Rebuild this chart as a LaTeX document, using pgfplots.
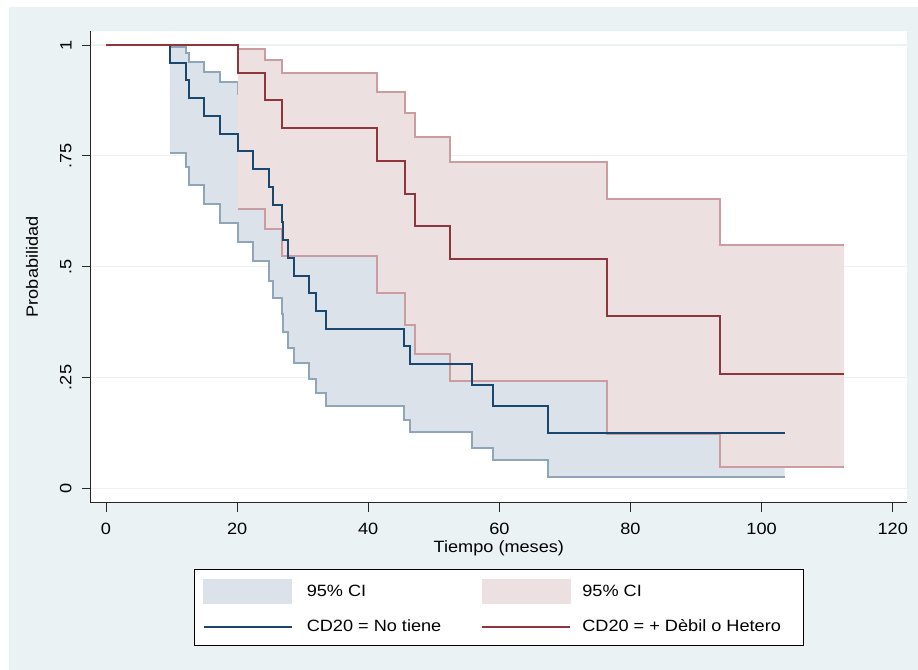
\documentclass[border=0pt]{standalone}
\usepackage{fontspec}
\setmainfont{Liberation Sans}[FakeStretch=1.11]
\usepackage{pgfplots}
\pgfplotsset{compat=1.18}
\usepackage{pgfplotstable}

\definecolor{bgc}{HTML}{EAF2F3}
\definecolor{gridc}{HTML}{EAF2F3}
\definecolor{bluel}{HTML}{1A476F}
\definecolor{redl}{HTML}{90353B}
\definecolor{bluefill}{HTML}{DCE2EA}
\definecolor{blueci}{HTML}{8FA5BA}
\definecolor{redfill}{HTML}{EDE0E1}
\definecolor{redci}{HTML}{CB9DA1}

% Blue group (CD20 = No tiene): survival estimate
\pgfplotstableread{
t s
0 1
9.76 0.96
12.2 0.92
12.66 0.88
15.0 0.84
17.4 0.80
20.1 0.76
22.5 0.72
24.9 0.68
25.5 0.64
26.8 0.60
27.0 0.56
27.7 0.52
28.7 0.48
30.9 0.44
32.0 0.40
33.5 0.36
45.5 0.32
46.3 0.28
55.8 0.2333
59.1 0.1867
67.4 0.1244
103.5 0.1244
}\blueS
% upper CI
\pgfplotstableread{
t u
9.76 0.995
12.2 0.981
12.66 0.961
15.0 0.938
17.4 0.916
20.1 0.89
22.5 0.866
24.9 0.84
25.5 0.81
26.8 0.785
27.0 0.757
27.7 0.727
28.7 0.697
30.9 0.665
32.0 0.632
33.5 0.598
45.5 0.56
46.3 0.52
55.8 0.48
59.1 0.43
67.4 0.35
103.5 0.35
}\blueU
% lower CI
\pgfplotstableread{
t l
9.76 0.757
12.2 0.725
12.66 0.684
15.0 0.641
17.4 0.599
20.1 0.556
22.5 0.513
24.9 0.468
25.5 0.429
26.8 0.393
27.0 0.353
27.7 0.316
28.7 0.282
30.9 0.247
32.0 0.216
33.5 0.185
45.5 0.154
46.3 0.126
55.8 0.092
59.1 0.063
67.4 0.026
103.5 0.026
}\blueL
% CI band outline: upper forward, then lower backward (value left of each step)
\pgfplotstableread{
t v
9.76 0.995
12.2 0.981
12.66 0.961
15.0 0.938
17.4 0.916
20.1 0.89
22.5 0.866
24.9 0.84
25.5 0.81
26.8 0.785
27.0 0.757
27.7 0.727
28.7 0.697
30.9 0.665
32.0 0.632
33.5 0.598
45.5 0.56
46.3 0.52
55.8 0.48
59.1 0.43
67.4 0.35
103.5 0.35
103.5 0.026
67.4 0.063
59.1 0.092
55.8 0.126
46.3 0.154
45.5 0.185
33.5 0.216
32.0 0.247
30.9 0.282
28.7 0.316
27.7 0.353
27.0 0.393
26.8 0.429
25.5 0.468
24.9 0.513
22.5 0.556
20.1 0.599
17.4 0.641
15.0 0.684
12.66 0.725
12.2 0.757
9.76 0.757
}\blueBand
% Red group (CD20 = + Debil o Hetero)
\pgfplotstableread{
t s
0 1
20.1 0.9375
24.25 0.875
26.9 0.8125
41.3 0.7386
45.6 0.6648
47.2 0.5909
52.4 0.5170
76.4 0.3878
93.7 0.2585
112.6 0.2585
}\redS
\pgfplotstableread{
t u
20.1 0.990
24.25 0.966
26.9 0.936
41.3 0.893
45.6 0.847
47.2 0.793
52.4 0.735
76.4 0.653
93.7 0.549
112.6 0.549
}\redU
\pgfplotstableread{
t l
20.1 0.631
24.25 0.585
26.9 0.5245
41.3 0.441
45.6 0.369
47.2 0.302
52.4 0.2415
76.4 0.123
93.7 0.047
112.6 0.047
}\redL
\pgfplotstableread{
t v
20.1 0.990
24.25 0.966
26.9 0.936
41.3 0.893
45.6 0.847
47.2 0.793
52.4 0.735
76.4 0.653
93.7 0.549
112.6 0.549
112.6 0.047
93.7 0.123
76.4 0.2415
52.4 0.302
47.2 0.369
45.6 0.441
41.3 0.5245
26.9 0.585
24.25 0.631
20.1 0.631
}\redBand

\begin{document}
\fontsize{16.4}{19}\selectfont
\begin{tikzpicture}
\fill[white] (0bp,0bp) rectangle (918bp,670bp);
\fill[bgc] (9bp,0bp) rectangle (918bp,663bp);
\begin{axis}[
  at={(90.7bp,167.3bp)}, anchor=south west,
  scale only axis, width=816.3bp, height=471.7bp,
  xmin=-2.33, xmax=122.18, ymin=-0.0325, ymax=1.0316,
  axis x line*=bottom, axis y line*=left,
  axis line style={-, line width=0.9bp, black!85},
  axis background/.style={fill=white},
  xtick={0,20,40,60,80,100,120},
  ytick={0,0.25,0.5,0.75,1},
  yticklabels={0,.25,.5,.75,1},
  tick align=outside, major tick length=9bp,
  tick style={line width=0.9bp, black!85},
  ymajorgrids, grid style={line width=1.2bp, gridc},
  /pgf/number format/assume math mode=true,
  yticklabel style={rotate=90, anchor=south, inner sep=0pt},
  xticklabel style={anchor=north, inner sep=0pt},
  xticklabel shift=11bp, yticklabel shift=10bp,
  xlabel={Tiempo (meses)}, ylabel={Probabilidad},
  xlabel style={at={(axis description cs:0.5,-0.1051)}, anchor=base, inner sep=0pt},
  ylabel style={at={(axis description cs:-0.0646,0.5)}, anchor=base, inner sep=0pt},
  legend columns=2,
  legend cell align=left,
  legend style={at={(axis description cs:0.5,-0.1412)}, anchor=north,
    draw=black, line width=0.9bp, fill=white,
    inner xsep=8.7bp, inner ysep=9.7bp, row sep=15bp,
    nodes={inner sep=0pt},
    /tikz/column 1/.style={column sep=14bp},
    /tikz/column 2/.style={column sep=40bp},
    /tikz/column 3/.style={column sep=11bp},
    font=\fontsize{16.4}{19}\selectfont},
]
% blue CI
\addplot[const plot, fill=bluefill, draw=none, forget plot] table[x=t,y=v] {\blueBand};
\addplot[const plot, blueci, line width=2bp, forget plot] table[x=t,y=u] {\blueU};
\addplot[const plot, blueci, line width=2bp, forget plot] table[x=t,y=l] {\blueL};
% red CI
\addplot[const plot, fill=redfill, draw=none, forget plot] table[x=t,y=v] {\redBand};
\addplot[const plot, redci, line width=2bp, forget plot] table[x=t,y=u] {\redU};
\addplot[const plot, redci, line width=2bp, forget plot] table[x=t,y=l] {\redL};
% survival curves
\addplot[const plot, bluel, line width=2bp, forget plot] table[x=t,y=s] {\blueS};
\addplot[const plot, redl, line width=2bp, forget plot] table[x=t,y=s] {\redS};
% legend
\addlegendimage{legend image code/.code={\fill[bluefill] (0bp,-12bp) rectangle (88bp,12bp);}}
\addlegendentry{95\% CI}
\addlegendimage{legend image code/.code={\fill[redfill] (0bp,-12bp) rectangle (88bp,12bp);}}
\addlegendentry{95\% CI}
\addlegendimage{legend image code/.code={\path[draw=none,fill=none] (0bp,-9bp) rectangle (1bp,6bp); \draw[bluel, line width=2bp] (0bp,0bp) -- (88bp,0bp);}}
\addlegendentry{CD20 = No tiene}
\addlegendimage{legend image code/.code={\path[draw=none,fill=none] (0bp,-9bp) rectangle (1bp,6bp); \draw[redl, line width=2bp] (0bp,0bp) -- (88bp,0bp);}}
\addlegendentry{CD20 = + Dèbil o Hetero\kern14bp\null}
\end{axis}
\end{tikzpicture}
\end{document}
